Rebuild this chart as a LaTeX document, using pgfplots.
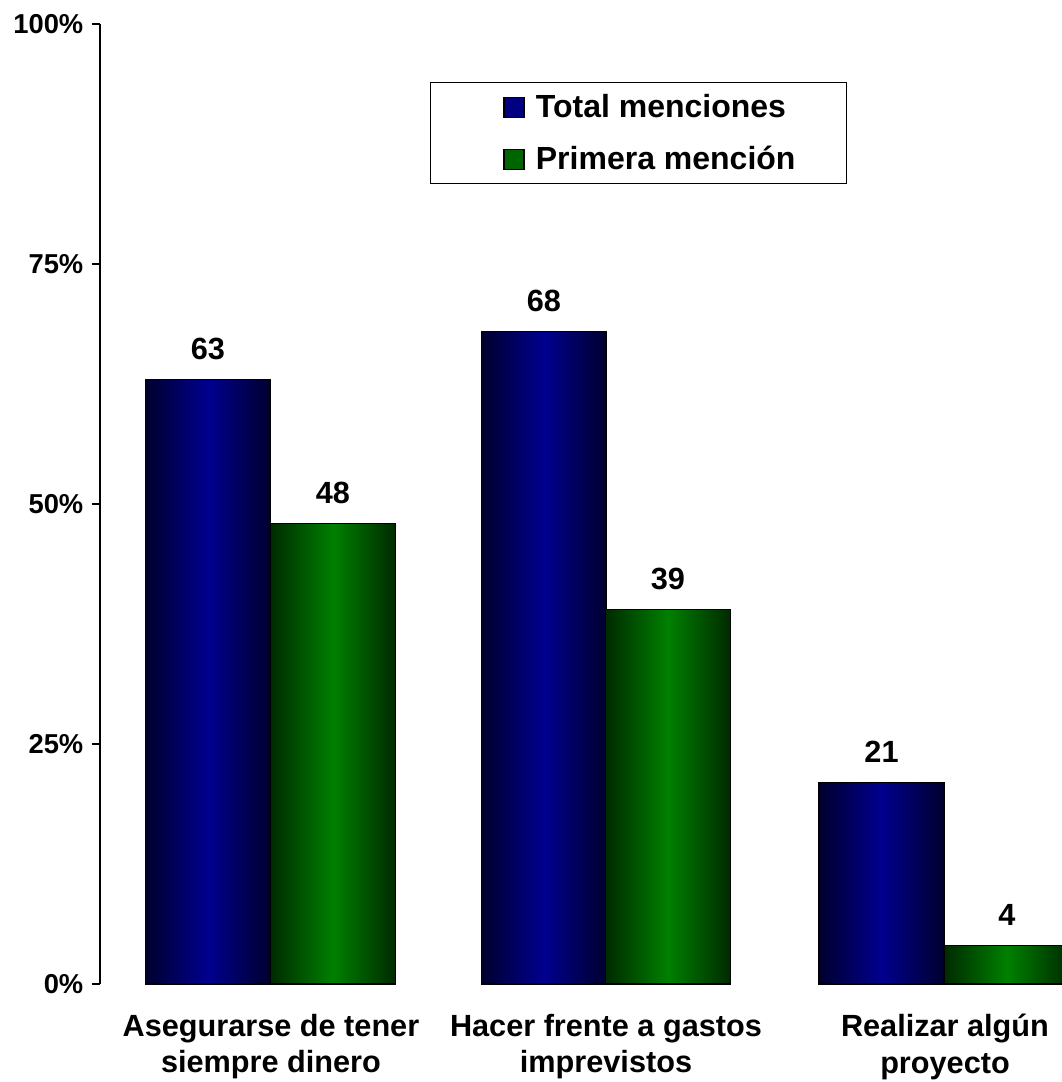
\documentclass[border=0pt]{standalone}
\usepackage{pgfplots}
\pgfplotsset{compat=1.18}
\usepackage{fontspec}
\setmainfont{Liberation Sans}
\definecolor{bdark}{HTML}{00002E}
\definecolor{bmid}{HTML}{00008E}
\definecolor{gdark}{HTML}{002A00}
\definecolor{gmid}{HTML}{008000}
\definecolor{bleg}{HTML}{000080}
\definecolor{gleg}{HTML}{006400}
\pgfplotsset{
  bluebar/.style={draw=black, line width=0.9pt, left color=bdark, right color=bdark, middle color=bmid, forget plot},
  greenbar/.style={draw=black, line width=0.9pt, left color=gdark, right color=gdark, middle color=gmid, forget plot},
}
\begin{document}
\begin{tikzpicture}
\begin{axis}[
  at={(0,0)}, anchor=south west,
  scale only axis, width=721.5pt, height=720pt,
  xmin=100, xmax=1062, ymin=0, ymax=100,
  axis y line*=left, axis x line*=bottom,
  x axis line style={draw=none},
  y axis line style={line width=1.3pt},
  xtick={271,606,945},
  xticklabels={{Asegurarse de tener\\siempre dinero},{Hacer frente a gastos\\imprevistos},{Realizar algún\\proyecto}},
  xtick style={draw=none},
  xticklabel style={align=center, font=\fontsize{23}{27.5}\selectfont\bfseries, yshift=-13pt},
  ytick={0,25,50,75,100},
  yticklabel={\pgfmathprintnumber{\tick}\%},
  yticklabel style={font=\fontsize{20.5}{24}\selectfont\bfseries, xshift=-3pt},
  /pgf/number format/assume math mode=true,
  tick align=outside, major tick length=6pt,
  ytick style={line width=1.3pt, black},
  ybar, bar width=125, bar shift=0,
  nodes near coords,
  every node near coord/.append style={font=\fontsize{23}{26}\selectfont\bfseries, yshift=11pt, black},
  legend style={at={(rel axis cs:0.343,0.9396)}, anchor=north west,
    draw=black, line width=0.9pt, font=\fontsize{24}{28}\selectfont\bfseries,
    inner xsep=36pt, inner ysep=7pt, row sep=16pt},
  legend cell align=left,
]
\addlegendimage{legend image code/.code={\path[draw=none] (-19pt,0) -- (22pt,0); \draw[fill=bleg, draw=black, line width=0.9pt] (0pt,-7.5pt) rectangle (15pt,7.5pt);}}
\addlegendentry{Total menciones}
\addlegendimage{legend image code/.code={\path[draw=none] (-19pt,0) -- (22pt,0); \draw[fill=gleg, draw=black, line width=0.9pt] (0pt,-7.5pt) rectangle (15pt,7.5pt);}}
\addlegendentry{Primera mención}
\addplot[bluebar] coordinates {(208,63)};
\addplot[bluebar] coordinates {(544,68)};
\addplot[bluebar] coordinates {(881.5,21)};
\addplot[greenbar] coordinates {(333,48)};
\addplot[greenbar] coordinates {(668,39)};
\addplot[greenbar] coordinates {(1007,4)};
\end{axis}
\pgfresetboundingbox
\path (-75pt,-73.5pt) rectangle (721.5pt,738pt);
\end{tikzpicture}
\end{document}
